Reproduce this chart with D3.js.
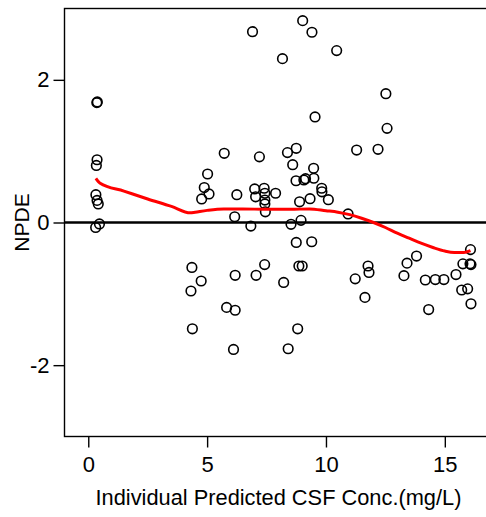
<!DOCTYPE html>
<html>
<head>
<meta charset="utf-8">
<script src="https://cdn.jsdelivr.net/npm/d3@7"></script>
<style>
  html, body { margin: 0; padding: 0; background: #fff; }
  svg { display: block; font-family: "Liberation Sans", Arial, sans-serif; }
</style>
</head>
<body>
<svg id="chart" width="486" height="517"></svg>
<script>
// Observed NPDE vs individual predicted CSF concentration
const predConc = [
  0.36, 0.38, 0.37, 0.34, 0.32, 0.37, 0.42, 0.47, 0.31,
  4.77, 4.88, 5.08, 5.02, 5.72, 6.25, 6.16, 6.84,
  4.36, 4.75, 4.32, 4.38, 6.18, 5.82, 6.18, 6.11,
  7.20, 7.00, 7.04, 7.40, 7.43, 7.43, 7.43, 7.45, 7.88, 8.38,
  8.75, 8.60, 8.74, 9.07, 9.14, 9.48, 9.49, 9.82, 9.83, 10.10,
  9.33, 8.89, 10.93, 8.53, 8.95, 8.75, 9.40, 11.29, 12.19, 9.54,
  6.91, 9.02, 9.41, 8.17, 10.45, 12.52, 12.57,
  7.06, 7.42, 8.22, 8.86, 9.00, 8.81, 8.41, 11.23, 11.77, 11.81, 11.64,
  13.28, 13.41, 13.81, 14.18, 14.60, 14.96, 14.32, 15.47, 15.76, 16.06,
  16.10, 16.08, 15.71, 15.96, 16.10
];
const npde = [
  1.68, 1.69, 0.88, 0.80, 0.39, 0.31, 0.26, -0.02, -0.07,
  0.33, 0.49, 0.40, 0.68, 0.97, 0.39, 0.08, -0.05,
  -0.63, -0.82, -0.96, -1.49, -0.74, -1.19, -1.23, -1.78,
  0.92, 0.47, 0.36, 0.48, 0.41, 0.315, 0.26, 0.15, 0.41, 0.98,
  1.04, 0.81, 0.585, 0.596, 0.614, 0.76, 0.62, 0.48, 0.43, 0.32,
  0.334, 0.29, 0.12, -0.025, 0.03, -0.28, -0.27, 1.016, 1.026, 1.48,
  2.675, 2.83, 2.667, 2.297, 2.41, 1.806, 1.32,
  -0.74, -0.59, -0.84, -0.61, -0.61, -1.49, -1.77, -0.79, -0.61, -0.70, -1.05,
  -0.745, -0.57, -0.47, -0.806, -0.80, -0.80, -1.22, -0.73, -0.58, -0.58,
  -0.59, -0.38, -0.946, -0.93, -1.14
];

// Smoothed trend (loess) through the NPDE values
const smoothX = [0.32, 0.5, 1.5, 2.5, 3.5, 4.29, 4.5, 5.0, 5.7, 6.5, 7.5, 8.5, 9.3,
  10.0, 10.5, 11.0, 11.5, 12.0, 12.5, 13.0, 13.5, 14.0, 14.5, 15.0, 15.4, 15.8, 16.08];
const smoothY = [0.62, 0.55, 0.44, 0.33, 0.225, 0.135, 0.145, 0.17, 0.19, 0.19, 0.185, 0.185, 0.19,
  0.165, 0.145, 0.11, 0.06, 0.0, -0.07, -0.15, -0.22, -0.29, -0.35, -0.40, -0.42, -0.42, -0.395];

const xTicks = [0, 5, 10, 15];
const xTickLabels = ["0", "5", "10", "15"];
const yTicks = [-2, 0, 2];
const yTickLabels = ["-2", "0", "2"];

const xTitle = "Individual Predicted CSF Conc.(mg/L)";
const yTitle = "NPDE";

const svg = d3.select("#chart");
const plotLeft = 64.5, plotTop = 8.5, plotBottom = 436.5;

const x = d3.scaleLinear().domain([-1, 17]).range([plotLeft, plotLeft + 18 * 23.77]);
const y = d3.scaleLinear().domain([-3, 3]).range([plotBottom, plotTop]);

// plot frame
svg.append("rect")
  .attr("x", x(-1)).attr("y", y(3))
  .attr("width", x(17) - x(-1)).attr("height", y(-3) - y(3))
  .attr("fill", "none").attr("stroke", "#000").attr("stroke-width", 1.4);

// reference line at zero
svg.append("line")
  .attr("x1", x(-1)).attr("x2", x(17))
  .attr("y1", y(0)).attr("y2", y(0))
  .attr("stroke", "#000").attr("stroke-width", 2.6);

// axes
const xAxis = d3.axisBottom(x)
  .tickValues(xTicks)
  .tickFormat((d, i) => xTickLabels[i])
  .tickSizeInner(11).tickSizeOuter(0).tickPadding(9);
const yAxis = d3.axisLeft(y)
  .tickValues(yTicks)
  .tickFormat((d, i) => yTickLabels[i])
  .tickSizeInner(11).tickSizeOuter(0).tickPadding(4);

const gx = svg.append("g").attr("transform", `translate(0,${plotBottom})`).call(xAxis);
const gy = svg.append("g").attr("transform", `translate(${plotLeft},0)`).call(yAxis);
[gx, gy].forEach(g => {
  g.select(".domain").remove();
  g.selectAll(".tick line").attr("stroke", "#000").attr("stroke-width", 1.4);
  g.selectAll(".tick text")
    .attr("fill", "#000")
    .style("font-family", "'Liberation Sans', Arial, sans-serif")
    .style("font-size", "22px");
});

// points
svg.append("g")
  .selectAll("circle")
  .data(predConc.map((c, i) => [c, npde[i]]))
  .join("circle")
  .attr("cx", d => x(d[0]))
  .attr("cy", d => y(d[1]))
  .attr("r", 4.8)
  .attr("fill", "none")
  .attr("stroke", "#000")
  .attr("stroke-width", 1.6);

// smooth trend
const line = d3.line()
  .x(d => x(d[0]))
  .y(d => y(d[1]))
  .curve(d3.curveMonotoneX);
svg.append("path")
  .datum(smoothX.map((v, i) => [v, smoothY[i]]))
  .attr("d", line)
  .attr("fill", "none")
  .attr("stroke", "#ff0000")
  .attr("stroke-width", 3);

// axis titles
svg.append("text")
  .attr("x", (95 + 462) / 2).attr("y", 505)
  .attr("text-anchor", "middle")
  .style("font-size", "21.8px")
  .text(xTitle);
svg.append("text")
  .attr("transform", `translate(29,${y(0)}) rotate(-90)`)
  .attr("text-anchor", "middle")
  .style("font-size", "21px")
  .text(yTitle);
</script>
</body>
</html>
